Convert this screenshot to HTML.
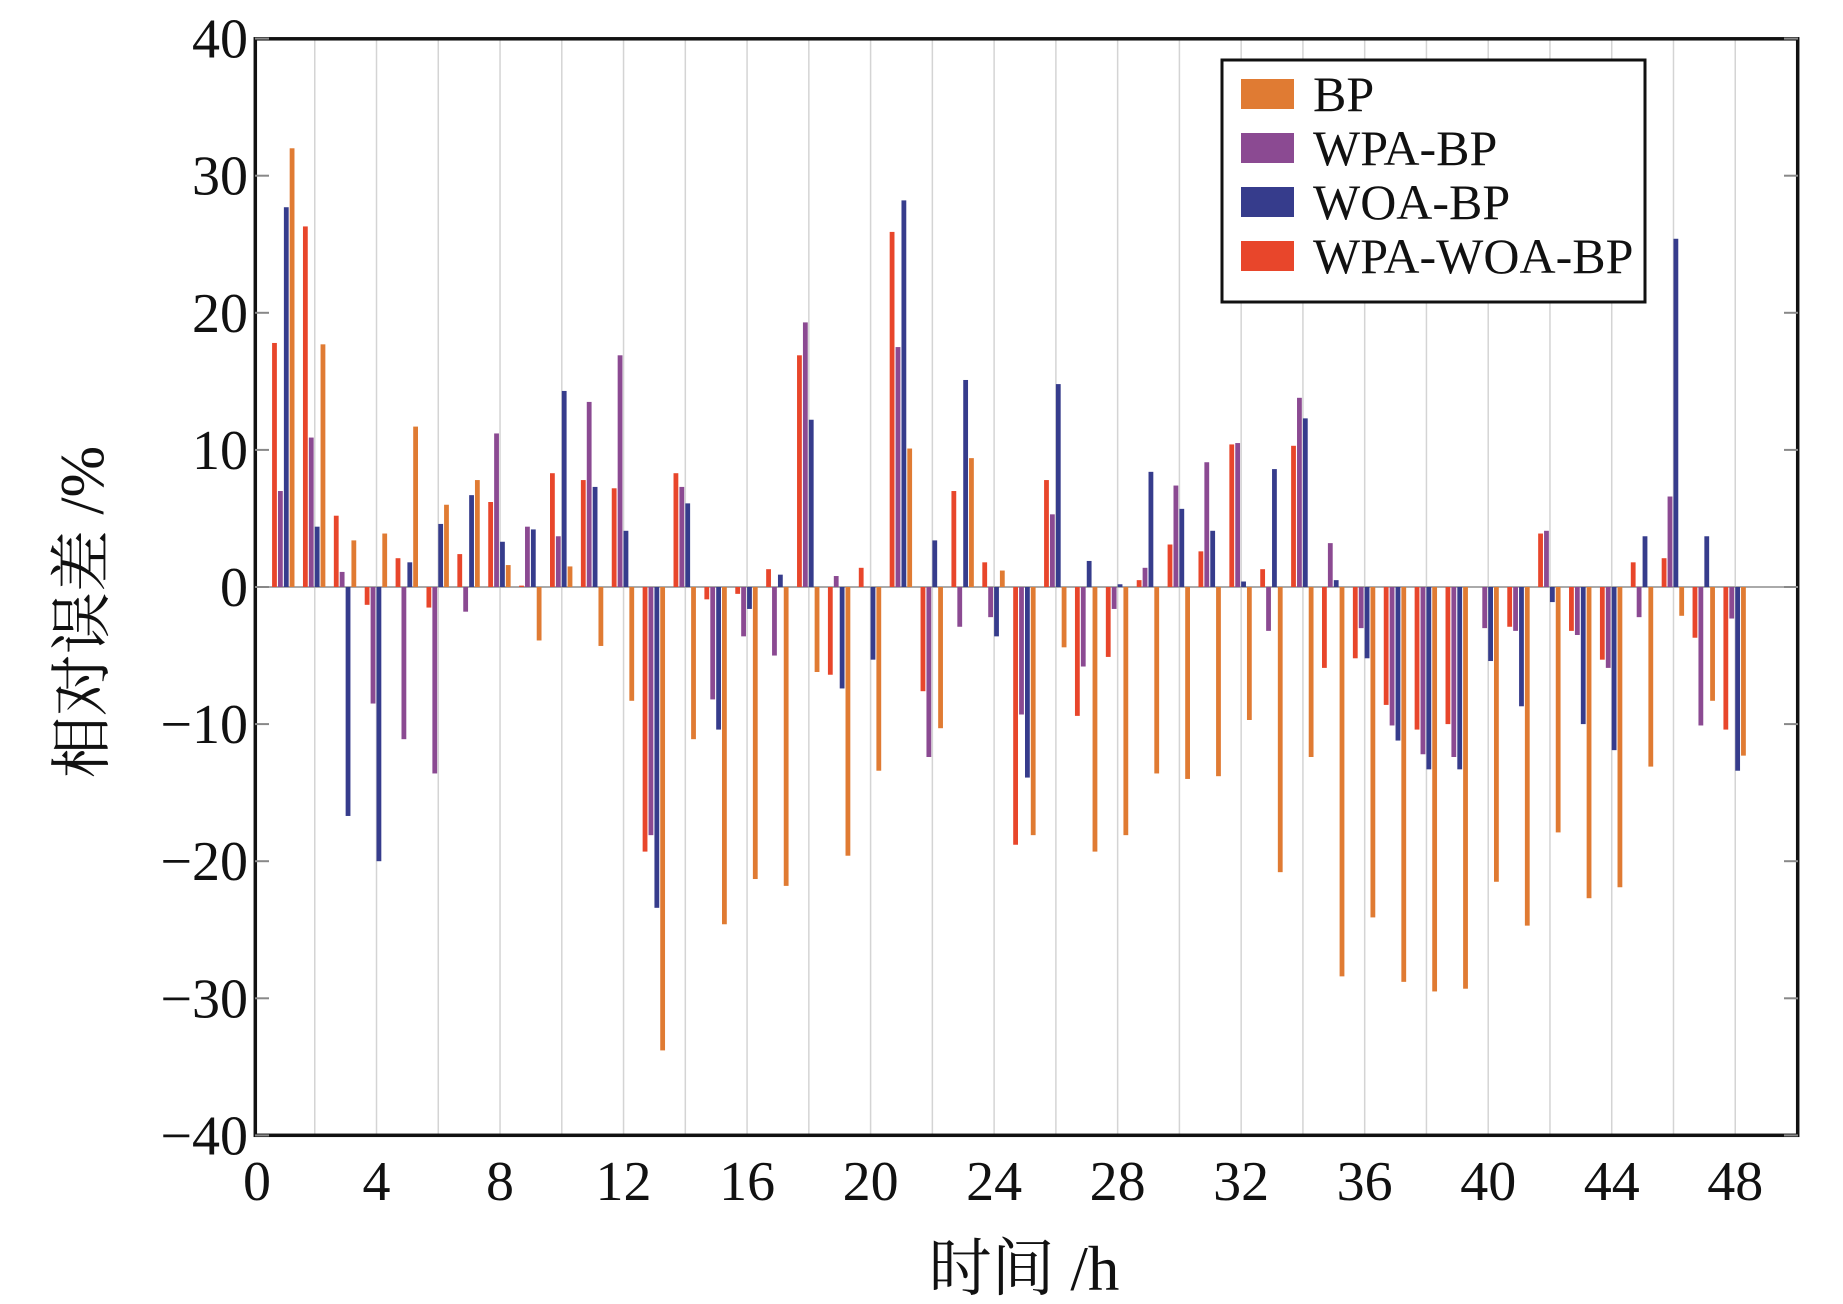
<!DOCTYPE html>
<html><head><meta charset="utf-8"><style>
html,body{margin:0;padding:0;background:#fff;}
svg text{font-family:"Liberation Serif","Noto Serif CJK SC",serif;fill:#111;}
</style></head><body>
<svg id="chart" width="1843" height="1299" viewBox="0 0 1843 1299" xmlns="http://www.w3.org/2000/svg">
<g id="grid"></g>
<line x1="255" x2="1798" y1="587" y2="587" stroke="#aaa" stroke-width="2"/>
<g id="bars"></g>
<rect x="255.3" y="38.8" width="1542.4" height="1096.5" fill="none" stroke="#111" stroke-width="3.5"/>
<g id="axes"></g>
<text x="1024" y="1290" font-size="63" text-anchor="middle">时间 /h</text>
<text transform="translate(103,612) rotate(-90)" font-size="62" text-anchor="middle">相对误差 /%</text>
<g>
<rect x="1222" y="60" width="423" height="242" fill="#fff" stroke="#111" stroke-width="3"/>
<rect x="1241" y="79" width="53" height="30" fill="#E07B33"/>
<text x="1313" y="111" font-size="50">BP</text>
<rect x="1241" y="133" width="53" height="30" fill="#8B4A92"/>
<text x="1313" y="165" font-size="50">WPA-BP</text>
<rect x="1241" y="187" width="53" height="30" fill="#363C8C"/>
<text x="1313" y="219" font-size="50">WOA-BP</text>
<rect x="1241" y="241" width="53" height="30" fill="#E8462B"/>
<text x="1313" y="273" font-size="50">WPA-WOA-BP</text>
</g>
</svg>
<script>
const hours = [1,2,3,4,5,6,7,8,9,10,11,12,13,14,15,16,17,18,19,20,21,22,23,24,25,26,27,28,29,30,31,32,33,34,35,36,37,38,39,40,41,42,43,44,45,46,47,48];
const wpaWoaBp = [17.8,26.3,5.2,-1.3,2.1,-1.5,2.4,6.2,0.1,8.3,7.8,7.2,-19.3,8.3,-0.9,-0.5,1.3,16.9,-6.4,1.4,25.9,-7.6,7,1.8,-18.8,7.8,-9.4,-5.1,0.5,3.1,2.6,10.4,1.3,10.3,-5.9,-5.2,-8.6,-10.4,-10,0,-2.9,3.9,-3.2,-5.3,1.8,2.1,-3.7,-10.4];
const wpaBp = [7,10.9,1.1,-8.5,-11.1,-13.6,-1.8,11.2,4.4,3.7,13.5,16.9,-18.1,7.3,-8.2,-3.6,-5,19.3,0.8,0,17.5,-12.4,-2.9,-2.2,-9.3,5.3,-5.8,-1.6,1.4,7.4,9.1,10.5,-3.2,13.8,3.2,-3,-10.1,-12.2,-12.4,-3,-3.2,4.1,-3.5,-5.9,-2.2,6.6,-10.1,-2.3];
const woaBp = [27.7,4.4,-16.7,-20,1.8,4.6,6.7,3.3,4.2,14.3,7.3,4.1,-23.4,6.1,-10.4,-1.6,0.9,12.2,-7.4,-5.3,28.2,3.4,15.1,-3.6,-13.9,14.8,1.9,0.2,8.4,5.7,4.1,0.4,8.6,12.3,0.5,-5.2,-11.2,-13.3,-13.3,-5.4,-8.7,-1.1,-10,-11.9,3.7,25.4,3.7,-13.4];
const bp = [32,17.7,3.4,3.9,11.7,6,7.8,1.6,-3.9,1.5,-4.3,-8.3,-33.8,-11.1,-24.6,-21.3,-21.8,-6.2,-19.6,-13.4,10.1,-10.3,9.4,1.2,-18.1,-4.4,-19.3,-18.1,-13.6,-14,-13.8,-9.7,-20.8,-12.4,-28.4,-24.1,-28.8,-29.5,-29.3,-21.5,-24.7,-17.9,-22.7,-21.9,-13.1,-2.1,-8.3,-12.3];
const yTicks = [40,30,20,10,0,-10,-20,-30,-40];
const xTicks = [0,4,8,12,16,20,24,28,32,36,40,44,48];

const NS = "http://www.w3.org/2000/svg";
const xS = h => 253 + h * 30.88;
const yS = v => 587 - v * 13.71;
const series = [
  {vals: wpaWoaBp, color: "#E8462B", off: -9.4, name: "wpa-woa-bp"},
  {vals: wpaBp, color: "#8B4A92", off: -3.5, name: "wpa-bp"},
  {vals: woaBp, color: "#363C8C", off: 2.4, name: "woa-bp"},
  {vals: bp, color: "#E07B33", off: 8.2, name: "bp"}
];
const grid = document.getElementById("grid");
for (let h = 2; h <= 48; h += 2) {
  const l = document.createElementNS(NS, "line");
  
  
  l.setAttribute("x1", xS(h)); l.setAttribute("x2", xS(h));
  l.setAttribute("y1", 39); l.setAttribute("y2", 1135);
  l.setAttribute("stroke", "#d4d4d4"); l.setAttribute("stroke-width", "1.5");
  grid.appendChild(l);
}
const bars = document.getElementById("bars");
series.forEach(s => {
  s.vals.forEach((v, i) => {
    const r = document.createElementNS(NS, "rect");
    
    
    const x = xS(hours[i]) + s.off - 2.4;
    const y0 = yS(0), y1 = yS(v);
    r.setAttribute("x", x); r.setAttribute("width", 4.8);
    r.setAttribute("y", Math.min(y0, y1)); r.setAttribute("height", Math.abs(y1 - y0));
    r.setAttribute("fill", s.color);
    bars.appendChild(r);
  });
});
const axes = document.getElementById("axes");
yTicks.forEach(t => {
  const y = yS(t);
  [[255, 269], [1784, 1798]].forEach(([a, b]) => {
    const l = document.createElementNS(NS, "line");
    
    
    l.setAttribute("x1", a); l.setAttribute("x2", b); l.setAttribute("y1", y); l.setAttribute("y2", y);
    l.setAttribute("stroke", "#888"); l.setAttribute("stroke-width", "2");
    axes.appendChild(l);
  });
  const tx = document.createElementNS(NS, "text");
  
  
  tx.setAttribute("x", 248); tx.setAttribute("y", y + 19);
  tx.setAttribute("text-anchor", "end"); tx.setAttribute("font-size", "56");
  tx.textContent = t < 0 ? "\u2212" + (-t) : String(t);
  axes.appendChild(tx);
});
xTicks.forEach(t => {
  const tx = document.createElementNS(NS, "text");
  
  
  tx.setAttribute("x", xS(t) + (t === 0 ? 4 : 0)); tx.setAttribute("y", 1200);
  tx.setAttribute("text-anchor", "middle"); tx.setAttribute("font-size", "56");
  tx.textContent = String(t);
  axes.appendChild(tx);
});
</script>
</body></html>
